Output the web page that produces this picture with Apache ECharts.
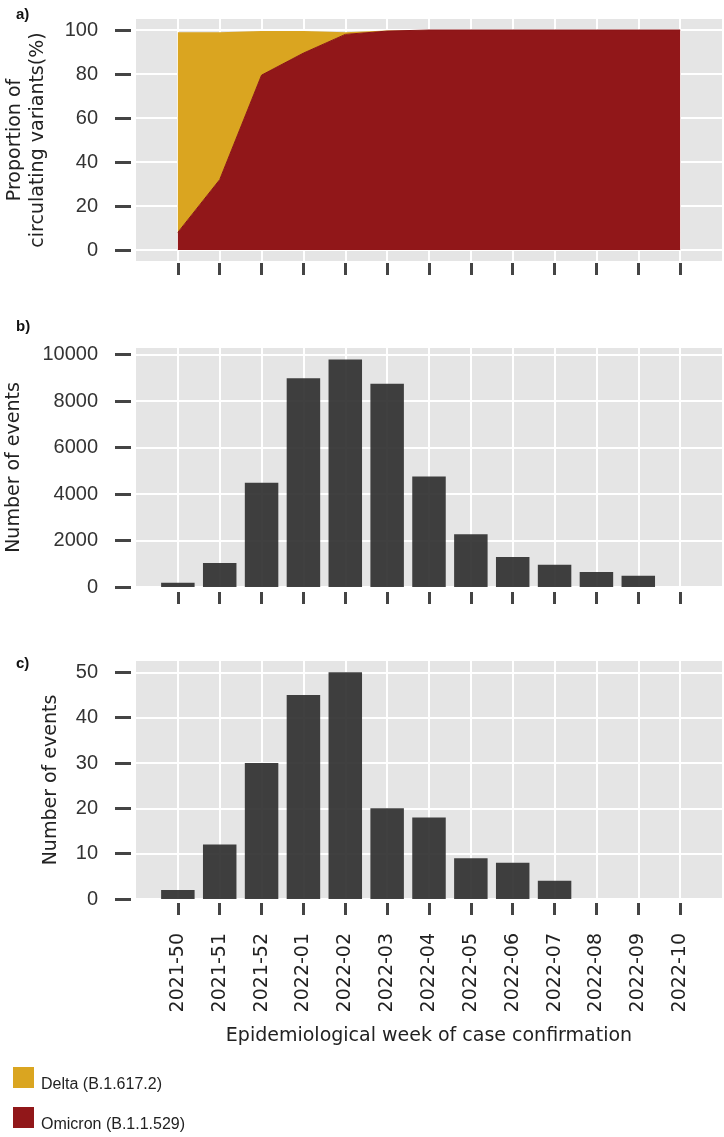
<!DOCTYPE html>
<html>
<head>
<meta charset="utf-8">
<script src="https://cdn.jsdelivr.net/npm/echarts@6/dist/echarts.min.js"></script>
<style>
html,body{margin:0;padding:0;background:#fff;}
#chart{width:724px;height:1137px;}
</style>
</head>
<body>
<div id="chart"></div>
<script>
// ---- data ----
const weeks = ['2021-50','2021-51','2021-52','2022-01','2022-02','2022-03','2022-04','2022-05','2022-06','2022-07','2022-08','2022-09','2022-10'];
const omicronPct = [8, 32, 79.5, 89.5, 98, 99.5, 100, 100, 100, 100, 100, 100, 100];
const deltaPct   = [91, 67, 20, 10, 1, 0.3, 0, 0, 0, 0, 0, 0, 0];
const eventsB = [180, 1030, 4480, 8980, 9790, 8740, 4750, 2270, 1290, 960, 650, 480, 0];
const eventsC = [2, 12, 30, 45, 50, 20, 18, 9, 8, 4, 0, 0, 0];
const yTicksA = [0, 20, 40, 60, 80, 100];
const yTicksB = [0, 2000, 4000, 6000, 8000, 10000];
const yTicksC = [0, 10, 20, 30, 40, 50];
const deltaName = 'Delta (B.1.617.2)';
const omicronName = 'Omicron (B.1.1.529)';

// ---- build ----
const pad = arr => [null].concat(arr, [null]);
const padCats = [''].concat(weeks, ['']);
const N = padCats.length;
const inner = (i) => i > 0 && i < N - 1;

const BG = '#e5e5e5';
const tickColor = '#444';
const tickFont = 'Liberation Sans, Arial, sans-serif';
const titleFont = 'DejaVu Sans, sans-serif';

function xAxis(gridIndex, showLabels, offset) {
  const ax = {
    type: 'category', gridIndex: gridIndex, data: padCats, boundaryGap: false,
    offset: offset,
    axisLine: {show: false, onZero: false},
    axisTick: {show: true, length: 12, interval: inner, lineStyle: {color: tickColor, width: 3}},
    splitLine: {show: true, interval: inner, lineStyle: {color: '#ffffff', width: 2}},
    axisLabel: {show: showLabels, interval: 0, rotate: 90, margin: 30,
      fontFamily: titleFont, fontSize: 19, color: '#222'}
  };
  if (showLabels) {
    ax.name = 'Epidemiological week of case confirmation';
    ax.nameLocation = 'middle';
    ax.nameGap = 124;
    ax.nameTextStyle = {fontFamily: titleFont, fontSize: 19, color: '#222'};
  }
  return ax;
}
function yAxis(gridIndex, ticks, name, gap, min, max) {
  return {
    type: 'value', gridIndex: gridIndex, min: min, max: max,
    offset: 5,
    name: name, nameLocation: 'middle', nameGap: gap,
    nameTextStyle: {fontFamily: titleFont, fontSize: 19, lineHeight: 23, color: '#222'},
    axisLine: {show: false, onZero: false},
    axisTick: {show: true, length: 16, customValues: ticks, lineStyle: {color: tickColor, width: 3}},
    axisLabel: {customValues: ticks, margin: 33, fontFamily: tickFont, fontSize: 20, color: '#333',
      formatter: v => String(v)},
    splitLine: {show: true, lineStyle: {color: '#ffffff', width: 2}}
  };
}

const gridBase = {left: 136, right: 2, show: true, backgroundColor: BG, borderWidth: 0,
  containLabel: false, outerBoundsMode: 'none'};
const labelStyle = {fontFamily: tickFont, fontSize: 15, fontWeight: 'bold', color: '#111'};

const option = {
  animation: false,
  backgroundColor: '#ffffff',
  title: [
    {text: 'a)', left: 11, top: 2, textStyle: labelStyle},
    {text: 'b)', left: 11, top: 314, textStyle: labelStyle},
    {text: 'c)', left: 11, top: 651, textStyle: labelStyle}
  ],
  legend: {
    orient: 'vertical', left: 13, top: 1067, padding: 0, height: 200,
    data: [deltaName, omicronName],
    icon: 'rect', itemWidth: 21, itemHeight: 21, itemGap: 14,
    formatter: name => '{t|' + name + '}',
    textStyle: {fontFamily: tickFont, fontSize: 16, color: '#222',
      rich: {t: {fontFamily: tickFont, fontSize: 16, color: '#222', lineHeight: 31, verticalAlign: 'bottom', padding: [0, 0, 0, 2]}}}
  },
  grid: [
    Object.assign({top: 19, height: 242}, gridBase),
    Object.assign({top: 348, height: 239}, gridBase),
    Object.assign({top: 661, height: 238}, gridBase)
  ],
  xAxis: [xAxis(0, false, 2), xAxis(1, false, 5), xAxis(2, true, 4)],
  yAxis: [
    yAxis(0, yTicksA, 'Proportion of\ncirculating variants(%)', 81, -5, 105),
    yAxis(1, yTicksB, 'Number of events', 105, 0, v => v.max * 1.05),
    yAxis(2, yTicksC, 'Number of events', 68, 0, v => v.max * 1.05)
  ],
  series: [
    {name: omicronName, type: 'line', xAxisIndex: 0, yAxisIndex: 0, stack: 'pct',
     data: pad(omicronPct), showSymbol: false, symbol: 'none',
     itemStyle: {color: '#911719'},
     lineStyle: {color: '#8a1416', width: 1},
     areaStyle: {color: '#911719', opacity: 1}},
    {name: deltaName, type: 'line', xAxisIndex: 0, yAxisIndex: 0, stack: 'pct',
     data: pad(deltaPct), showSymbol: false, symbol: 'none',
     itemStyle: {color: '#daa520'},
     lineStyle: {color: '#daa520', width: 0},
     areaStyle: {color: '#daa520', opacity: 1}},
    {name: 'eventsB', type: 'bar', xAxisIndex: 1, yAxisIndex: 1, data: pad(eventsB),
     barWidth: '80%', itemStyle: {color: 'rgba(48,48,48,0.92)'}},
    {name: 'eventsC', type: 'bar', xAxisIndex: 2, yAxisIndex: 2, data: pad(eventsC),
     barWidth: '80%', itemStyle: {color: 'rgba(48,48,48,0.92)'}}
  ]
};

const chart = echarts.init(document.getElementById('chart'), null, {renderer: 'canvas'});
chart.setOption(option);
</script>
</body>
</html>
